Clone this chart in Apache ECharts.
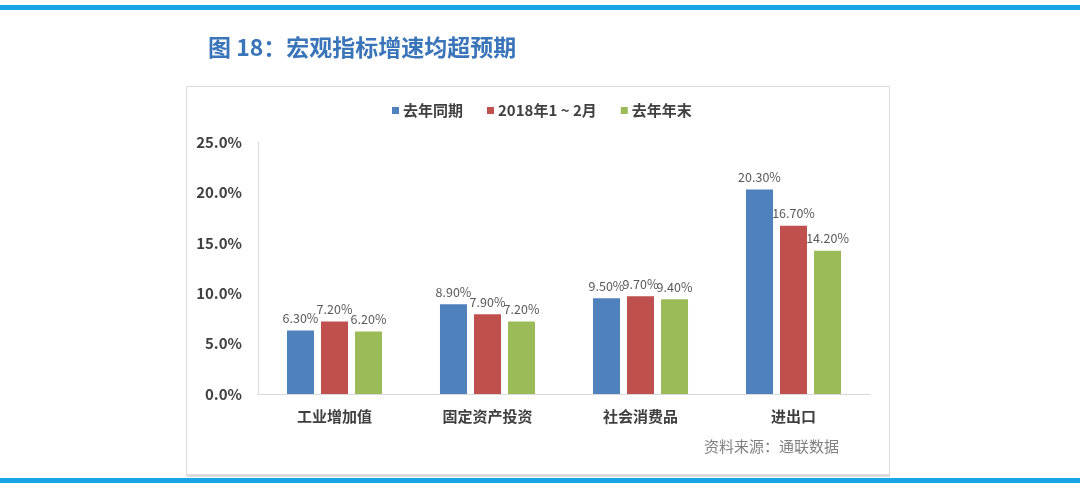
<!DOCTYPE html>
<html><head><meta charset="utf-8">
<script src="https://cdn.jsdelivr.net/npm/echarts@6/dist/echarts.min.js"></script>
<style>html,body{margin:0;padding:0;background:#fff}#c{width:1080px;height:489px}</style>
</head><body><div id="c"></div>
<script>
const categories = ['工业增加值','固定资产投资','社会消费品','进出口'];
const seriesNames = ['去年同期','2018年1 ~ 2月','去年年末'];
const lastYearSame = [6.3, 8.9, 9.5, 20.3];
const jan2018 = [7.2, 7.9, 9.7, 16.7];
const lastYearEnd = [6.2, 7.2, 9.4, 14.2];
const colors = ['#4f81bd','#c0504d','#9bbb59'];
const font = '"Noto Sans CJK SC", "Microsoft YaHei", sans-serif';

const chart = echarts.init(document.getElementById('c'));
const mk = (name, data, i) => ({
  name, type: 'bar', data, barWidth: 27, barGap: '26%',
  itemStyle: { color: colors[i] },
  label: { show: true, position: 'top', distance: 6, color: '#595959', fontSize: 12.5, fontFamily: font,
    formatter: p => p.value.toFixed(2) + '%' }
});
chart.setOption({
  animation: false,
  textStyle: { fontFamily: font },
  title: { text: '图 18：宏观指标增速均超预期', left: 203, top: 31,
    textStyle: { color: '#3a74b9', fontSize: 23, fontWeight: 'bold', fontFamily: font } },
  legend: { data: seriesNames, left: 387, top: 98, itemWidth: 7, itemHeight: 7, itemGap: 24,
    icon: 'rect', textStyle: { color: '#404040', fontSize: 15, fontWeight: 'bold', fontFamily: font, padding: [0,0,0,-1] } },
  grid: { left: 258, right: 210, top: 142, bottom: 95 },
  xAxis: { type: 'category', data: categories,
    axisLine: { lineStyle: { color: '#d9d9d9' } }, axisTick: { show: false },
    axisLabel: { color: '#404040', fontSize: 15, fontWeight: 'bold', margin: 15, fontFamily: font } },
  yAxis: { type: 'value', min: 0, max: 25, interval: 5,
    axisLine: { show: true, lineStyle: { color: '#d9d9d9' } }, axisTick: { show: false },
    splitLine: { show: false },
    axisLabel: { color: '#404040', fontSize: 15, fontWeight: 'bold', margin: 16, fontFamily: font,
      formatter: v => v.toFixed(1) + '%' } },
  series: [mk(seriesNames[0], lastYearSame, 0), mk(seriesNames[1], jan2018, 1), mk(seriesNames[2], lastYearEnd, 2)],
  graphic: [
    { type: 'rect', shape: { x: 0, y: 5, width: 1080, height: 5 }, style: { fill: '#17a5e6' } },
    { type: 'rect', shape: { x: 0, y: 478, width: 1080, height: 5 }, style: { fill: '#17a5e6' } },
    { type: 'rect', shape: { x: 186.5, y: 86.5, width: 703, height: 389 }, style: { fill: 'none', stroke: '#d9d9d9', lineWidth: 1 }, z: -1 },
    { type: 'rect', shape: { x: 187, y: 474, width: 703, height: 3 }, style: { fill: '#dcdcdc' } },
    { type: 'text', left: 704, top: 439, style: { text: '资料来源：通联数据', fill: '#7f7f7f', fontSize: 15, fontFamily: font } }
  ]
});
</script></body></html>
